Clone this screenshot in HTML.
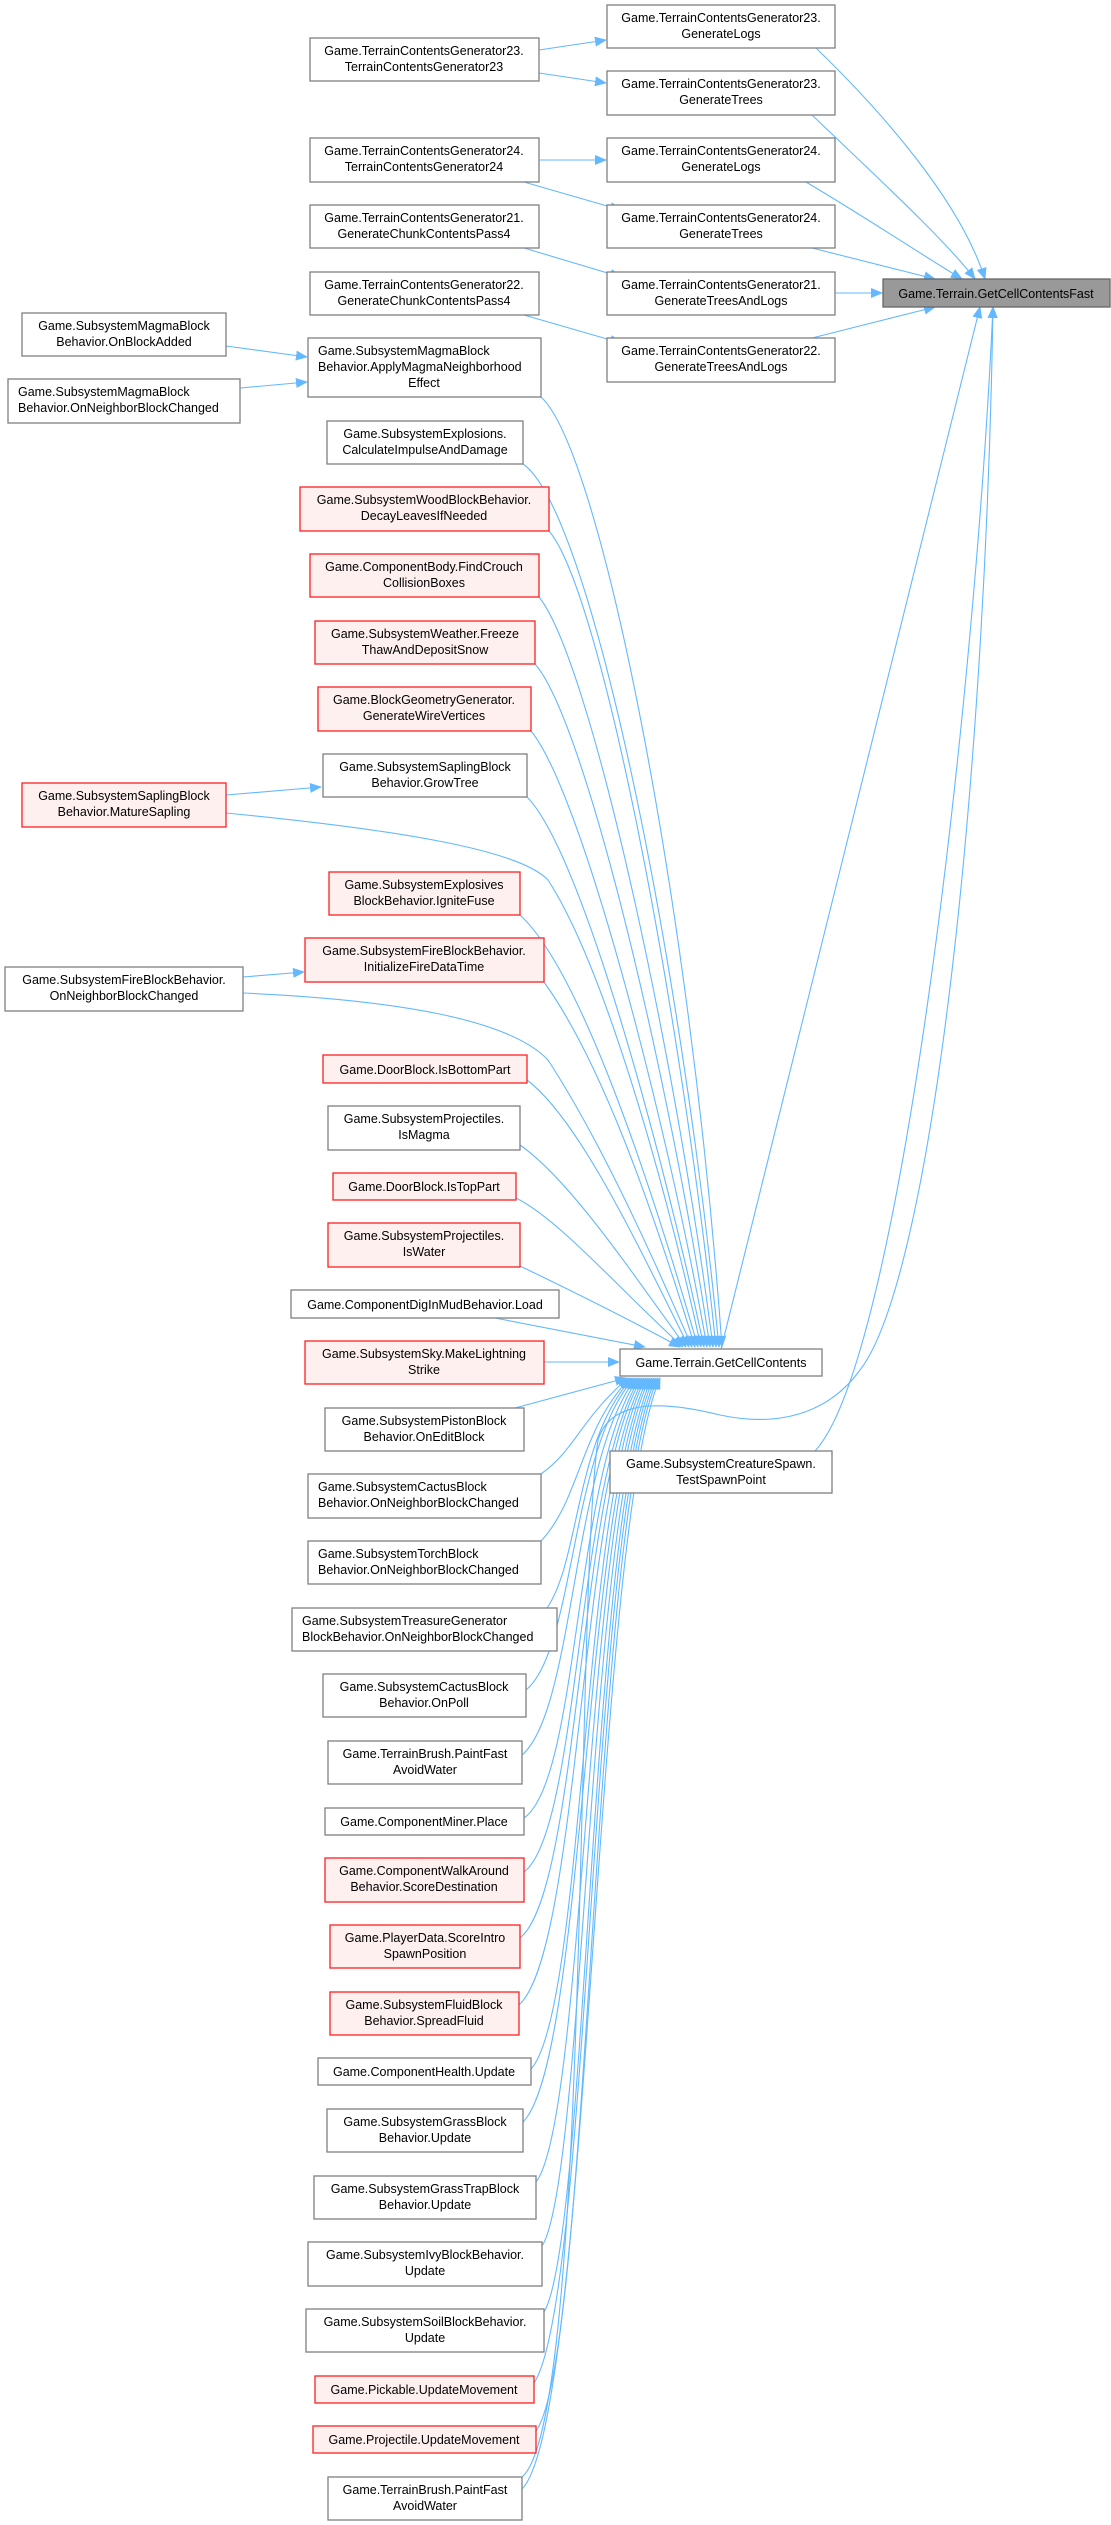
<!DOCTYPE html>
<html><head><meta charset="utf-8"><style>
html,body{margin:0;padding:0;background:#fff;}
svg{display:block;}
text{font-family:"Liberation Sans",Arial,sans-serif;font-size:12.5px;fill:#000;}
.n rect{fill:#fff;stroke:#808080;stroke-width:1.3;}
.r rect{fill:#fff0f0;stroke:#ff2020;stroke-width:1.3;}
.f rect{fill:#999;stroke:#666;stroke-width:1.3;}
.e{fill:none;stroke:#63b8ff;stroke-width:1.1;}
.m{text-anchor:middle;}
</style></head><body>
<svg width="1111" height="2525" viewBox="0 0 1111 2525" xmlns="http://www.w3.org/2000/svg">
<defs><marker id="a" markerWidth="12" markerHeight="10" refX="11" refY="5" orient="auto" markerUnits="userSpaceOnUse"><path d="M0,0 L12,5 L0,10 z" fill="#63b8ff"/></marker></defs>

<!-- edges to GetCellContentsFast -->
<path class="e" marker-end="url(#a)" d="M816,48 C880,110 960,200 985,279"/>
<path class="e" marker-end="url(#a)" d="M812,115 C880,180 945,240 975,279"/>
<path class="e" marker-end="url(#a)" d="M806,182 C870,220 930,260 962,279"/>
<path class="e" marker-end="url(#a)" d="M812,248 L935,279"/>
<path class="e" marker-end="url(#a)" d="M835,293 L882,293"/>
<path class="e" marker-end="url(#a)" d="M812,338 L935,307"/>
<path class="e" marker-end="url(#a)" d="M721,1349 L980,307"/>
<path class="e" marker-end="url(#a)" d="M815,1451 C900,1360 975,700 993,307"/>
<path class="e" marker-end="url(#a)" d="M522,2477 C590,2420 575,1600 598,1440 C610,1400 660,1400 720,1415 C790,1430 835,1405 860,1370 C930,1280 985,800 993,307"/>

<!-- generator edges -->
<path class="e" marker-end="url(#a)" d="M539,50 L606,40"/>
<path class="e" marker-end="url(#a)" d="M539,73 L606,83"/>
<path class="e" marker-end="url(#a)" d="M539,160 L606,160"/>
<path class="e" marker-end="url(#a)" d="M524,182 L621,210"/>
<path class="e" marker-end="url(#a)" d="M524,248 L621,277"/>
<path class="e" marker-end="url(#a)" d="M524,315 L621,343"/>
<path class="e" marker-end="url(#a)" d="M226,346 L307,357"/>
<path class="e" marker-end="url(#a)" d="M240,388 L307,382"/>
<path class="e" marker-end="url(#a)" d="M226,795 L321,787"/>
<path class="e" marker-end="url(#a)" d="M243,977 L304,972"/>

<!-- upper callers to GetCellContents top -->
<g class="e">
<path marker-end="url(#a)" d="M541,397 C600,450 690,900 722,1347"/>
<path marker-end="url(#a)" d="M523,464 C590,510 680,950 719,1347"/>
<path marker-end="url(#a)" d="M549,531 C600,590 680,1000 716,1347"/>
<path marker-end="url(#a)" d="M539,597 C590,660 675,1050 713,1347"/>
<path marker-end="url(#a)" d="M535,664 C585,720 670,1080 710,1347"/>
<path marker-end="url(#a)" d="M531,731 C580,790 665,1110 707,1347"/>
<path marker-end="url(#a)" d="M527,797 C580,850 660,1140 704,1347"/>
<path marker-end="url(#a)" d="M226,813 C400,830 520,850 548,880 C600,960 660,1160 701,1347"/>
<path marker-end="url(#a)" d="M520,915 C580,970 650,1180 698,1347"/>
<path marker-end="url(#a)" d="M544,982 C600,1060 650,1200 695,1347"/>
<path marker-end="url(#a)" d="M243,993 C400,1000 510,1020 548,1060 C600,1140 650,1250 692,1347"/>
<path marker-end="url(#a)" d="M527,1080 C580,1120 640,1250 689,1347"/>
<path marker-end="url(#a)" d="M520,1145 C570,1180 630,1270 686,1347"/>
<path marker-end="url(#a)" d="M516,1198 C560,1220 620,1290 683,1347"/>
<path marker-end="url(#a)" d="M520,1266 C570,1290 630,1320 680,1347"/>
<path marker-end="url(#a)" d="M495,1318 L645,1347"/>
<path marker-end="url(#a)" d="M544,1362 L619,1362"/>
</g>
<!-- lower callers to GetCellContents bottom -->
<g class="e">
<path marker-end="url(#a)" d="M515,1408 L626,1378"/>
<path marker-end="url(#a)" d="M541,1474 C575,1450 580,1420 628,1378"/>
<path marker-end="url(#a)" d="M541,1541 C580,1500 580,1430 630,1378"/>
<path marker-end="url(#a)" d="M547,1608 C580,1560 575,1440 632,1378"/>
<path marker-end="url(#a)" d="M526,1690 C575,1650 570,1450 634,1378"/>
<path marker-end="url(#a)" d="M522,1755 C575,1710 572,1460 636,1378"/>
<path marker-end="url(#a)" d="M524,1818 C580,1780 574,1470 638,1378"/>
<path marker-end="url(#a)" d="M524,1872 C580,1830 576,1480 640,1378"/>
<path marker-end="url(#a)" d="M520,1938 C580,1890 578,1480 642,1378"/>
<path marker-end="url(#a)" d="M519,2005 C580,1950 580,1490 644,1378"/>
<path marker-end="url(#a)" d="M531,2069 C585,2010 582,1490 646,1378"/>
<path marker-end="url(#a)" d="M523,2122 C585,2060 584,1500 648,1378"/>
<path marker-end="url(#a)" d="M536,2182 C585,2120 586,1500 650,1378"/>
<path marker-end="url(#a)" d="M542,2246 C585,2180 588,1510 652,1378"/>
<path marker-end="url(#a)" d="M544,2312 C588,2240 590,1510 654,1378"/>
<path marker-end="url(#a)" d="M534,2383 C590,2300 590,1520 656,1378"/>
<path marker-end="url(#a)" d="M536,2431 C590,2360 592,1520 658,1378"/>
<path marker-end="url(#a)" d="M522,2489 C590,2420 594,1530 660,1378"/>
</g>

<!-- nodes -->
<g class="f"><rect x="883" y="279" width="227" height="28"/><text class="m" x="996" y="298">Game.Terrain.GetCellContentsFast</text></g>

<g class="n"><rect x="607" y="5" width="228" height="43"/><text class="m" x="721" y="22">Game.TerrainContentsGenerator23.</text><text class="m" x="721" y="38">GenerateLogs</text></g>
<g class="n"><rect x="607" y="71" width="228" height="44"/><text class="m" x="721" y="88">Game.TerrainContentsGenerator23.</text><text class="m" x="721" y="104">GenerateTrees</text></g>
<g class="n"><rect x="607" y="138" width="228" height="44"/><text class="m" x="721" y="155">Game.TerrainContentsGenerator24.</text><text class="m" x="721" y="171">GenerateLogs</text></g>
<g class="n"><rect x="607" y="205" width="228" height="43"/><text class="m" x="721" y="222">Game.TerrainContentsGenerator24.</text><text class="m" x="721" y="238">GenerateTrees</text></g>
<g class="n"><rect x="607" y="272" width="228" height="43"/><text class="m" x="721" y="289">Game.TerrainContentsGenerator21.</text><text class="m" x="721" y="305">GenerateTreesAndLogs</text></g>
<g class="n"><rect x="607" y="338" width="228" height="44"/><text class="m" x="721" y="355">Game.TerrainContentsGenerator22.</text><text class="m" x="721" y="371">GenerateTreesAndLogs</text></g>

<g class="n"><rect x="310" y="38" width="229" height="43"/><text class="m" x="424" y="55">Game.TerrainContentsGenerator23.</text><text class="m" x="424" y="71">TerrainContentsGenerator23</text></g>
<g class="n"><rect x="310" y="138" width="229" height="44"/><text class="m" x="424" y="155">Game.TerrainContentsGenerator24.</text><text class="m" x="424" y="171">TerrainContentsGenerator24</text></g>
<g class="n"><rect x="310" y="205" width="229" height="43"/><text class="m" x="424" y="222">Game.TerrainContentsGenerator21.</text><text class="m" x="424" y="238">GenerateChunkContentsPass4</text></g>
<g class="n"><rect x="310" y="272" width="229" height="43"/><text class="m" x="424" y="289">Game.TerrainContentsGenerator22.</text><text class="m" x="424" y="305">GenerateChunkContentsPass4</text></g>
<g class="n"><rect x="308" y="338" width="233" height="59"/><text x="318" y="355">Game.SubsystemMagmaBlock</text><text x="318" y="371">Behavior.ApplyMagmaNeighborhood</text><text class="m" x="424" y="387">Effect</text></g>

<g class="n"><rect x="22" y="313" width="204" height="43"/><text class="m" x="124" y="330">Game.SubsystemMagmaBlock</text><text class="m" x="124" y="346">Behavior.OnBlockAdded</text></g>
<g class="n"><rect x="8" y="379" width="232" height="44"/><text x="18" y="396">Game.SubsystemMagmaBlock</text><text x="18" y="412">Behavior.OnNeighborBlockChanged</text></g>

<g class="n"><rect x="327" y="421" width="196" height="43"/><text class="m" x="425" y="438">Game.SubsystemExplosions.</text><text class="m" x="425" y="454">CalculateImpulseAndDamage</text></g>
<g class="r"><rect x="300" y="487" width="249" height="44"/><text class="m" x="424" y="504">Game.SubsystemWoodBlockBehavior.</text><text class="m" x="424" y="520">DecayLeavesIfNeeded</text></g>
<g class="r"><rect x="310" y="554" width="229" height="43"/><text class="m" x="424" y="571">Game.ComponentBody.FindCrouch</text><text class="m" x="424" y="587">CollisionBoxes</text></g>
<g class="r"><rect x="315" y="621" width="220" height="43"/><text class="m" x="425" y="638">Game.SubsystemWeather.Freeze</text><text class="m" x="425" y="654">ThawAndDepositSnow</text></g>
<g class="r"><rect x="318" y="687" width="213" height="44"/><text class="m" x="424" y="704">Game.BlockGeometryGenerator.</text><text class="m" x="424" y="720">GenerateWireVertices</text></g>
<g class="n"><rect x="323" y="754" width="204" height="43"/><text class="m" x="425" y="771">Game.SubsystemSaplingBlock</text><text class="m" x="425" y="787">Behavior.GrowTree</text></g>
<g class="r"><rect x="22" y="783" width="204" height="44"/><text class="m" x="124" y="800">Game.SubsystemSaplingBlock</text><text class="m" x="124" y="816">Behavior.MatureSapling</text></g>
<g class="r"><rect x="329" y="872" width="191" height="43"/><text class="m" x="424" y="889">Game.SubsystemExplosives</text><text class="m" x="424" y="905">BlockBehavior.IgniteFuse</text></g>
<g class="r"><rect x="305" y="938" width="239" height="44"/><text class="m" x="424" y="955">Game.SubsystemFireBlockBehavior.</text><text class="m" x="424" y="971">InitializeFireDataTime</text></g>
<g class="n"><rect x="5" y="967" width="238" height="44"/><text class="m" x="124" y="984">Game.SubsystemFireBlockBehavior.</text><text class="m" x="124" y="1000">OnNeighborBlockChanged</text></g>
<g class="r"><rect x="323" y="1055" width="204" height="28"/><text class="m" x="425" y="1074">Game.DoorBlock.IsBottomPart</text></g>
<g class="n"><rect x="328" y="1106" width="192" height="44"/><text class="m" x="424" y="1123">Game.SubsystemProjectiles.</text><text class="m" x="424" y="1139">IsMagma</text></g>
<g class="r"><rect x="333" y="1173" width="183" height="27"/><text class="m" x="424" y="1191">Game.DoorBlock.IsTopPart</text></g>
<g class="r"><rect x="328" y="1223" width="192" height="44"/><text class="m" x="424" y="1240">Game.SubsystemProjectiles.</text><text class="m" x="424" y="1256">IsWater</text></g>
<g class="n"><rect x="291" y="1290" width="268" height="28"/><text class="m" x="425" y="1309">Game.ComponentDigInMudBehavior.Load</text></g>
<g class="r"><rect x="305" y="1341" width="239" height="43"/><text class="m" x="424" y="1358">Game.SubsystemSky.MakeLightning</text><text class="m" x="424" y="1374">Strike</text></g>
<g class="n"><rect x="620" y="1349" width="202" height="27"/><text class="m" x="721" y="1367">Game.Terrain.GetCellContents</text></g>
<g class="n"><rect x="610" y="1451" width="222" height="42"/><text class="m" x="721" y="1468">Game.SubsystemCreatureSpawn.</text><text class="m" x="721" y="1484">TestSpawnPoint</text></g>
<g class="n"><rect x="325" y="1408" width="199" height="43"/><text class="m" x="424" y="1425">Game.SubsystemPistonBlock</text><text class="m" x="424" y="1441">Behavior.OnEditBlock</text></g>
<g class="n"><rect x="308" y="1474" width="233" height="44"/><text x="318" y="1491">Game.SubsystemCactusBlock</text><text x="318" y="1507">Behavior.OnNeighborBlockChanged</text></g>
<g class="n"><rect x="308" y="1541" width="233" height="43"/><text x="318" y="1558">Game.SubsystemTorchBlock</text><text x="318" y="1574">Behavior.OnNeighborBlockChanged</text></g>
<g class="n"><rect x="292" y="1608" width="265" height="43"/><text x="302" y="1625">Game.SubsystemTreasureGenerator</text><text x="302" y="1641">BlockBehavior.OnNeighborBlockChanged</text></g>
<g class="n"><rect x="323" y="1674" width="203" height="43"/><text class="m" x="424" y="1691">Game.SubsystemCactusBlock</text><text class="m" x="424" y="1707">Behavior.OnPoll</text></g>
<g class="n"><rect x="328" y="1741" width="194" height="43"/><text class="m" x="425" y="1758">Game.TerrainBrush.PaintFast</text><text class="m" x="425" y="1774">AvoidWater</text></g>
<g class="n"><rect x="325" y="1808" width="199" height="27"/><text class="m" x="424" y="1826">Game.ComponentMiner.Place</text></g>
<g class="r"><rect x="325" y="1858" width="199" height="44"/><text class="m" x="424" y="1875">Game.ComponentWalkAround</text><text class="m" x="424" y="1891">Behavior.ScoreDestination</text></g>
<g class="r"><rect x="330" y="1925" width="190" height="43"/><text class="m" x="425" y="1942">Game.PlayerData.ScoreIntro</text><text class="m" x="425" y="1958">SpawnPosition</text></g>
<g class="r"><rect x="330" y="1992" width="189" height="43"/><text class="m" x="424" y="2009">Game.SubsystemFluidBlock</text><text class="m" x="424" y="2025">Behavior.SpreadFluid</text></g>
<g class="n"><rect x="318" y="2058" width="213" height="27"/><text class="m" x="424" y="2076">Game.ComponentHealth.Update</text></g>
<g class="n"><rect x="327" y="2109" width="196" height="43"/><text class="m" x="425" y="2126">Game.SubsystemGrassBlock</text><text class="m" x="425" y="2142">Behavior.Update</text></g>
<g class="n"><rect x="314" y="2176" width="222" height="43"/><text class="m" x="425" y="2193">Game.SubsystemGrassTrapBlock</text><text class="m" x="425" y="2209">Behavior.Update</text></g>
<g class="n"><rect x="308" y="2242" width="234" height="44"/><text class="m" x="425" y="2259">Game.SubsystemIvyBlockBehavior.</text><text class="m" x="425" y="2275">Update</text></g>
<g class="n"><rect x="306" y="2309" width="238" height="43"/><text class="m" x="425" y="2326">Game.SubsystemSoilBlockBehavior.</text><text class="m" x="425" y="2342">Update</text></g>
<g class="r"><rect x="315" y="2376" width="219" height="27"/><text class="m" x="424" y="2394">Game.Pickable.UpdateMovement</text></g>
<g class="r"><rect x="313" y="2426" width="223" height="27"/><text class="m" x="424" y="2444">Game.Projectile.UpdateMovement</text></g>
<g class="n"><rect x="328" y="2477" width="194" height="43"/><text class="m" x="425" y="2494">Game.TerrainBrush.PaintFast</text><text class="m" x="425" y="2510">AvoidWater</text></g>
</svg>
</body></html>
